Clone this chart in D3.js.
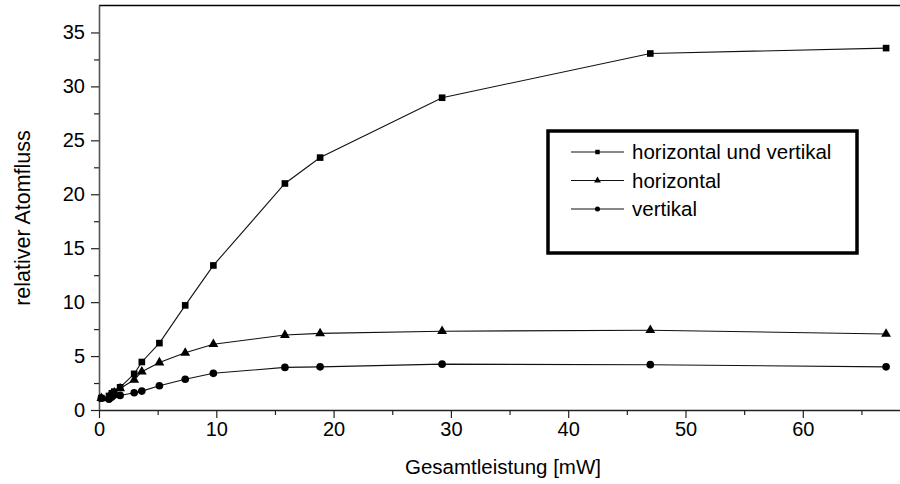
<!DOCTYPE html>
<html>
<head>
<meta charset="utf-8">
<script src="https://cdn.jsdelivr.net/npm/d3@7"></script>
<style>
  html, body { margin: 0; padding: 0; background: #fff; }
  svg { display: block; }
  text { font-family: "Liberation Sans", Arial, Helvetica, sans-serif; fill: #000; }
</style>
</head>
<body>
<svg id="chart" width="900" height="484"></svg>
<script>
// Gesamtleistung in mW (x values shared by all three series)
const power = [0.2, 0.85, 1.1, 1.3, 1.8, 3.0, 3.65, 5.15, 7.35, 9.75, 15.85, 18.85, 29.25, 47.0, 67.1];
// relativer Atomfluss for each cooling configuration
const fluxBoth       = [1.1, 1.3, 1.55, 1.7, 2.1, 3.35, 4.45, 6.2, 9.7, 13.4, 21.0, 23.4, 28.95, 33.05, 33.55];
const fluxHorizontal = [1.1, 1.2, 1.45, 1.6, 2.0, 2.8, 3.55, 4.4, 5.3, 6.1, 6.95, 7.1, 7.3, 7.4, 7.05];
const fluxVertical   = [1.1, 1.0, 1.2, 1.4, 1.35, 1.6, 1.75, 2.25, 2.85, 3.4, 3.95, 4.0, 4.25, 4.2, 4.0];
const seriesNames = ["horizontal und vertikal", "horizontal", "vertikal"];
const seriesSymbols = ["square", "triangle", "circle"];

const xMajorTicks = [0, 10, 20, 30, 40, 50, 60];
const xMinorTicks = [5, 15, 25, 35, 45, 55, 65];
const yMajorTicks = [0, 5, 10, 15, 20, 25, 30, 35];
const yMinorTicks = [2.5, 7.5, 12.5, 17.5, 22.5, 27.5, 32.5];

const xLabel = "Gesamtleistung [mW]";
const yLabel = "relativer Atomfluss";

const svg = d3.select("#chart");
const W = 900, H = 484;
const plotLeft = 99, plotBottom = 410, plotTop = 5.5;

const x = d3.scaleLinear().domain([0, 70]).range([plotLeft, plotLeft + 70 * 11.73]);
const y = d3.scaleLinear().domain([0, 37.5]).range([plotBottom, plotTop]);

const series = [fluxBoth, fluxHorizontal, fluxVertical].map((vals, i) => ({
  name: seriesNames[i],
  symbol: seriesSymbols[i],
  points: power.map((p, j) => ({ x: p, y: vals[j] }))
}));

// clip everything to the visible area
svg.append("defs").append("clipPath").attr("id", "clip")
  .append("rect").attr("x", 0).attr("y", 0).attr("width", W).attr("height", H);
const root = svg.append("g").attr("clip-path", "url(#clip)");

// top frame line
root.append("line")
  .attr("x1", plotLeft).attr("x2", W + 5)
  .attr("y1", plotTop).attr("y2", plotTop)
  .attr("stroke", "#000").attr("stroke-width", 1.3);

// x axis
const xAxis = root.append("g").attr("transform", `translate(0,${plotBottom})`)
  .call(d3.axisBottom(x).tickValues(xMajorTicks).tickSize(8).tickPadding(4).tickSizeOuter(0));
xAxis.select(".domain").attr("d", `M${plotLeft},0.5H${W + 5}`).attr("stroke", "#222").attr("stroke-width", 1.4);
xAxis.selectAll(".tick line").attr("stroke", "#222").attr("stroke-width", 1.2);
xAxis.selectAll(".tick text").attr("font-size", 20).attr("font-family", "Liberation Sans, Arial, sans-serif");
root.append("g").attr("transform", `translate(0,${plotBottom})`)
  .call(d3.axisBottom(x).tickValues(xMinorTicks).tickSize(5).tickFormat(""))
  .call(g => g.select(".domain").remove())
  .selectAll(".tick line").attr("stroke", "#222").attr("stroke-width", 1.2);

// y axis
const yAxis = root.append("g").attr("transform", `translate(${plotLeft},0)`)
  .call(d3.axisLeft(y).tickValues(yMajorTicks).tickSize(8).tickPadding(6).tickSizeOuter(0));
yAxis.select(".domain").attr("d", `M0.5,${plotBottom}V${plotTop}`).attr("stroke", "#555").attr("stroke-width", 1.6);
yAxis.selectAll(".tick line").attr("stroke", "#222").attr("stroke-width", 1.2);
yAxis.selectAll(".tick text").attr("font-size", 20).attr("font-family", "Liberation Sans, Arial, sans-serif");
root.append("g").attr("transform", `translate(${plotLeft},0)`)
  .call(d3.axisLeft(y).tickValues(yMinorTicks).tickSize(5).tickFormat(""))
  .call(g => g.select(".domain").remove())
  .selectAll(".tick line").attr("stroke", "#222").attr("stroke-width", 1.2);

// axis titles
root.append("text")
  .attr("x", 503).attr("y", 474)
  .attr("text-anchor", "middle").attr("font-size", 20.5)
  .text(xLabel);
root.append("text")
  .attr("transform", "translate(30,218) rotate(-90)")
  .attr("text-anchor", "middle").attr("font-size", 21.5)
  .text(yLabel);

// markers
const symbolType = { square: d3.symbolSquare, triangle: d3.symbolTriangle, circle: d3.symbolCircle };
const symbolSize = { square: 44, triangle: 42, circle: 46 };
const line = d3.line().x(d => x(d.x)).y(d => y(d.y));

series.forEach(s => {
  root.append("path")
    .datum(s.points)
    .attr("d", line)
    .attr("fill", "none")
    .attr("stroke", "#111")
    .attr("stroke-width", 1.1);
  root.append("g").selectAll("path")
    .data(s.points)
    .join("path")
    .attr("transform", d => `translate(${x(d.x)},${y(d.y)})`)
    .attr("d", d3.symbol().type(symbolType[s.symbol]).size(symbolSize[s.symbol]))
    .attr("fill", "#000");
});

// legend
const lg = root.append("g");
lg.append("rect")
  .attr("x", 548).attr("y", 131)
  .attr("width", 309).attr("height", 122)
  .attr("fill", "#fff").attr("stroke", "#000").attr("stroke-width", 3.5);
series.forEach((s, i) => {
  const cy = 152 + i * 28.5;
  lg.append("line")
    .attr("x1", 571).attr("x2", 624)
    .attr("y1", cy).attr("y2", cy)
    .attr("stroke", "#111").attr("stroke-width", 1.1);
  lg.append("path")
    .attr("transform", `translate(597.5,${cy})`)
    .attr("d", d3.symbol().type(symbolType[s.symbol]).size(20))
    .attr("fill", "#000");
  lg.append("text")
    .attr("x", 632).attr("y", cy)
    .attr("dy", "0.36em")
    .attr("font-size", 20.5)
    .text(s.name);
});
</script>
</body>
</html>
